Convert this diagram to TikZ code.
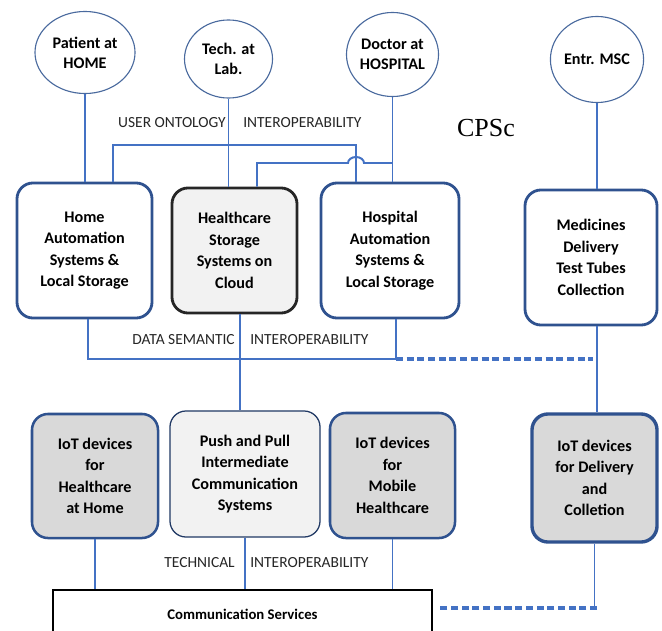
\documentclass[tikz,border=0pt]{standalone}
\usepackage{fontspec}
\setmainfont{Carlito}
\newfontfamily\cpsfont{Liberation Serif}
\usetikzlibrary{shapes.geometric}
\usetikzlibrary{calc}

\definecolor{boxblue}{HTML}{2F528F}
\definecolor{linkblue}{HTML}{4472C4}
\definecolor{ringblue}{HTML}{4A6A9E}
\definecolor{lightgrey}{HTML}{F2F2F2}
\definecolor{midgrey}{HTML}{D9D9D9}
\definecolor{textgrey}{HTML}{262626}

\begin{document}
\begin{tikzpicture}[x=0.025cm,y=-0.025cm,
		actor/.style={draw=ringblue,line width=0.8pt,ellipse,inner sep=0pt,align=center,font=\fontsize{11.5}{14.2}\selectfont\bfseries},
		sysbox/.style={draw=boxblue,line width=2pt,fill=white,rounded corners=0.4cm,inner sep=0pt,align=center,font=\fontsize{11.5}{15.3}\selectfont\bfseries},
		cloudbox/.style={sysbox,draw=black!85,fill=lightgrey},
		iotbox/.style={sysbox,line width=1.8pt,fill=midgrey},
		pushbox/.style={sysbox,draw=boxblue!70!black,line width=0.9pt,fill=lightgrey},
		commbox/.style={draw=black,line width=1.4pt,fill=white,inner sep=0pt,font=\fontsize{10.5}{12}\selectfont\bfseries},
		lbl/.style={inner sep=0pt,text=textgrey,font=\fontsize{11}{13}\selectfont},
		link/.style={draw=linkblue,line width=1.4pt},
		dashlink/.style={draw=linkblue,line width=2.4pt,dash pattern=on 5pt off 2.6pt}]
		\useasboundingbox (0,0) rectangle (662,630);
		\clip (0,0) rectangle (662,630);

		% Actors on top
		\node[actor,minimum width=2.5cm,minimum height=2.05cm] (patient) at (85,52.5) {Patient at\\HOME};
		\node[actor,minimum width=2.2cm,minimum height=1.95cm] (tech) at (228.5,59) {Tech. at\\Lab.};
		\node[actor,minimum width=2.15cm,minimum height=2.1cm] (doctor) at (392.5,54.5) {Doctor at\\HOSPITAL};
		\node[actor,minimum width=2.2cm,minimum height=2.15cm] (entr) at (597,59.5) {Entr. MSC};

		\node[font=\fontsize{18.5}{20}\selectfont\cpsfont,inner sep=0pt] (cps) at (486,128) {CPSc};

		% Storage systems
		\node[sysbox,minimum width=3.375cm,minimum height=3.375cm] (home) at (84.5,250.5) {Home\\Automation\\Systems \&\\Local Storage};
		\node[cloudbox,minimum width=3.125cm,minimum height=3.125cm] (cloud) at (234.5,250.5) {Healthcare\\Storage\\Systems on\\Cloud};
		\node[sysbox,minimum width=3.45cm,minimum height=3.375cm] (hosp) at (390,250.5) {Hospital\\Automation\\Systems \&\\Local Storage};
		\node[sysbox,minimum width=3.3cm,minimum height=3.375cm] (medic) at (591,257.5) {Medicines\\Delivery\\Test Tubes\\Collection};

		% Devices
		\node[iotbox,minimum width=3.15cm,minimum height=3.1cm] (iothome) at (95,476) {IoT devices\\for\\Healthcare\\at Home};
		\node[pushbox,minimum width=3.75cm,minimum height=3.15cm] (push) at (245,474) {Push and Pull\\Intermediate\\Communication\\Systems};
		\node[iotbox,minimum width=3.125cm,minimum height=3.125cm] (iotmob) at (392.5,475.5) {IoT devices\\for\\Mobile\\Healthcare};
		\node[iotbox,line width=2.4pt,minimum width=3.125cm,minimum height=3.2cm] (iotdel) at (594.5,478) {IoT devices\\for Delivery\\and\\Colletion};

		\node[commbox,minimum width=9.475cm,minimum height=1.2cm] (comm) at (242.5,614) {Communication Services};

		% Interoperability labels
		\node[lbl,anchor=east] (uolbl) at (226,123) {USER ONTOLOGY};
		\node[lbl,anchor=west] (uoint) at (243,123) {INTEROPERABILITY};
		\node[lbl,anchor=east] (dslbl) at (235,340) {DATA SEMANTIC};
		\node[lbl,anchor=west] (dsint) at (250,340) {INTEROPERABILITY};
		\node[lbl,anchor=east] (telbl) at (235,563) {TECHNICAL};
		\node[lbl,anchor=west] (teint) at (250,563) {INTEROPERABILITY};

		% Bus corners
		\coordinate (uleft) at (113,145);
		\coordinate (uright) at (356,145);
		\coordinate (hook) at (257,163);
		\coordinate (dleft) at (88,359);
		\coordinate (dmid) at (240,359);
		\coordinate (dright) at (396,359);
		\coordinate (tcorner) at (597,608);

		\draw[link] (patient.south) -- (patient.south |- home.north);
		\draw[link] (tech.south) -- (tech.south |- cloud.north);
		\draw[link] (doctor.south) -- (doctor.south |- hosp.north);
		\draw[link] (entr.south) -- (entr.south |- medic.north);

		\draw[link] (uleft |- home.north) -- (uleft) -- (uright) -- (uright |- hosp.north);
		\draw[link] (hook |- cloud.north) -- (hook) -- ($(uright |- hook)+(-8,0)$) arc[start angle=180,end angle=0,x radius=0.2cm,y radius=0.15cm] -- (doctor.south |- hook);

		\draw[link] (dleft |- home.south) -- (dleft) -- (dright) -- (dright |- hosp.south);
		\draw[dashlink] (dright) -- ($(entr.south |- dright)+(-4,0)$);
		\draw[link] (entr.south |- medic.south) -- (entr.south |- iotdel.north);
		\draw[link] (dmid |- cloud.south) -- (dmid |- push.north);

		\draw[link] (iothome.south) -- (iothome.south |- comm.north);
		\draw[link] (push.south) -- (push.south |- comm.north);
		\draw[link] (iotmob.south) -- (iotmob.south |- comm.north);
		\draw[link] (iotdel.south) -- (iotdel.south |- tcorner);
		\draw[dashlink] (tcorner) -- ($(comm.east |- tcorner)+(4,0)$);
	\end{tikzpicture}
\end{document}
